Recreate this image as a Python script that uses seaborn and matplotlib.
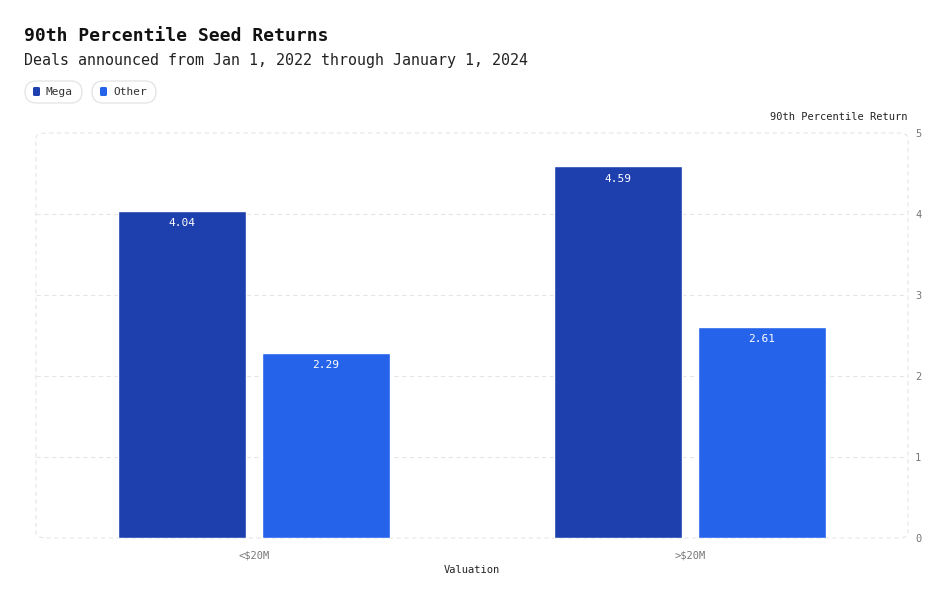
import matplotlib
matplotlib.use("Agg")
import matplotlib.pyplot as plt
from matplotlib.patches import FancyBboxPatch
from matplotlib.transforms import IdentityTransform
import seaborn as sns
import pandas as pd

valuations = ["<$20M", ">$20M"]
mega_vals = [4.04, 4.59]
other_vals = [2.29, 2.61]
series_names = ["Mega", "Other"]
colors = {"Mega": "#1e40af", "Other": "#2563eb"}

df = pd.DataFrame({
    "Valuation": valuations * 2,
    "Return": mega_vals + other_vals,
    "Type": [series_names[0]] * 2 + [series_names[1]] * 2,
})

sns.set_style("white")
plt.rcParams["font.family"] = ["DejaVu Sans Mono", "DejaVu Sans"]

W, H = 944, 600
fig = plt.figure(figsize=(W / 100, H / 100), dpi=100)
ax = fig.add_axes([36 / W, 62 / H, 872 / W, 405 / H])

sns.barplot(data=df, x="Valuation", y="Return", hue="Type", palette=colors,
            width=0.66, gap=0.11, ax=ax, legend=False, saturation=1)

for bar in ax.patches:
    h = bar.get_height()
    if h <= 0:
        continue
    ax.text(bar.get_x() + bar.get_width() / 2, h - 0.09, f"{h:.2f}",
            ha="center", va="top", color="white", fontsize=8)

ax.set_xlim(-0.5, 1.5)
ax.set_ylim(0, 5)
ax.set_yticks([0, 1, 2, 3, 4, 5])
ax.yaxis.tick_right()
ax.tick_params(axis="y", length=0, labelsize=7.5, labelcolor="#777777", pad=5)
ax.tick_params(axis="x", length=5, color="#e5e5e5", labelsize=7.5, labelcolor="#777777", pad=4)
for s in ax.spines.values():
    s.set_visible(False)
for y in [1, 2, 3, 4]:
    ax.axhline(y, color="#e5e5e5", lw=0.8, ls=(0, (4, 3)), zorder=0)
ax.add_patch(FancyBboxPatch((0, 0), 1, 1, boxstyle="round,pad=0,rounding_size=0.012",
                            transform=ax.transAxes, fill=False, ec="#e5e5e5",
                            lw=0.8, ls=(0, (4, 3)), zorder=0, clip_on=False,
                            mutation_aspect=872 / 405 * 0.5))
ax.set_ylabel("")
ax.set_xlabel("Valuation", fontsize=7.5, color="#222222", labelpad=3)
fig.text(908 / W, 1 - 117 / H, "90th Percentile Return", ha="right", va="center",
         fontsize=7.5, color="#222222")

fig.text(24 / W, 1 - 36 / H, "90th Percentile Seed Returns", fontsize=13, fontweight="bold",
         color="#111111", va="center")
fig.text(24 / W, 1 - 60 / H, "Deals announced from Jan 1, 2022 through January 1, 2024",
         fontsize=10.8, color="#222222", va="center")

# legend pills (pixel coordinates)
pills = [(25, 82, "Mega"), (92, 156, "Other")]
for x0, x1, name in pills:
    p = FancyBboxPatch((x0, H - 103), x1 - x0, 22, boxstyle="round,pad=0,rounding_size=11",
                       fc="white", ec="#e0e0e0", lw=0.8)
    p.set_transform(IdentityTransform())
    fig.patches.append(p)
    m = FancyBboxPatch((x0 + 8, H - 96), 7, 9, boxstyle="round,pad=0,rounding_size=1.5",
                       fc=colors[name], ec="none")
    m.set_transform(IdentityTransform())
    fig.patches.append(m)
    fig.text((x0 + 21) / W, 1 - 92 / H, name, fontsize=8, color="#333333", va="center")

fig.savefig("out.png", dpi=100)
